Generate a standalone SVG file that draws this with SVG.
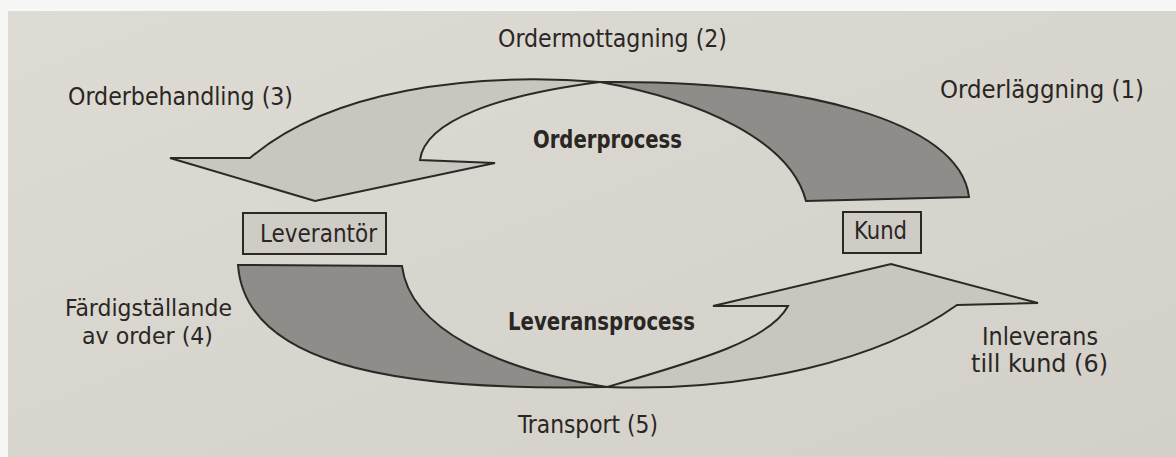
<svg xmlns="http://www.w3.org/2000/svg" width="1176" height="457" viewBox="0 0 1176 457">
  <defs>
    <linearGradient id="paper" x1="0" y1="0" x2="1" y2="1">
      <stop offset="0" stop-color="#dedbd4"/>
      <stop offset="1" stop-color="#d3d0c9"/>
    </linearGradient>
    <style>
      .lbl { font-family: 'DejaVu Sans Condensed', 'DejaVu Sans', sans-serif; font-stretch: condensed; font-size: 25px; fill: #2a2624; }
      .small { font-size: 23px; }
      .bold { font-weight: bold; }
      .light { fill: #c9c6c0; stroke: #2b2826; stroke-width: 2; stroke-linejoin: miter; }
      .dark { fill: #8f8d89; stroke: #2b2826; stroke-width: 2; stroke-linejoin: miter; }
      .box { fill: #cfccc6; stroke: #2b2826; stroke-width: 2; }
    </style>
  </defs>

  <rect x="0" y="0" width="1176" height="457" fill="#f7f7f6"/>
  <rect x="8" y="11" width="1168" height="446" fill="url(#paper)"/>

  <g id="connectors">
    <path id="orderbehandling-arrow" class="light" d="M600,82 C470,72 330,90 250,158 L170,158 L315,201 L495,163 L420,160 C425,120 500,95 600,82 Z"/>
    <path id="orderlaggning-arrow" class="dark" d="M600,82 C800,80 960,120 969,197 L806,201 C790,140 700,100 600,82 Z"/>
    <path id="fardigstallande-arrow" class="dark" d="M238,265 L402,266 C410,330 500,370 607,387 C380,392 245,360 238,265 Z"/>
    <path id="inleverans-arrow" class="light" d="M607,387 C700,360 770,340 788,306 L713,306 L891,264 L1038,303 L957,305 C880,360 750,392 607,387 Z"/>
  </g>

  <g id="leverantor">
    <rect class="box" x="243" y="213" width="143" height="41"/>
    <text class="lbl" x="260" y="242" textLength="117" lengthAdjust="spacingAndGlyphs">Leverantör</text>
  </g>

  <g id="kund">
    <rect class="box" x="843" y="212" width="78" height="41"/>
    <text class="lbl" x="854" y="239" textLength="53" lengthAdjust="spacingAndGlyphs">Kund</text>
  </g>

  <g id="labels">
    <text class="lbl" x="498" y="47" textLength="229" lengthAdjust="spacingAndGlyphs">Ordermottagning (2)</text>
    <text class="lbl" x="68" y="105" textLength="225" lengthAdjust="spacingAndGlyphs">Orderbehandling (3)</text>
    <text class="lbl" x="940" y="98" textLength="204" lengthAdjust="spacingAndGlyphs">Orderläggning (1)</text>
    <text class="lbl bold" x="533" y="148" textLength="149" lengthAdjust="spacingAndGlyphs">Orderprocess</text>
    <text class="lbl small" x="65" y="316" textLength="167" lengthAdjust="spacingAndGlyphs">Färdigställande</text>
    <text class="lbl small" x="82" y="344" textLength="131" lengthAdjust="spacingAndGlyphs">av order (4)</text>
    <text class="lbl bold" x="508" y="330" textLength="187" lengthAdjust="spacingAndGlyphs">Leveransprocess</text>
    <text class="lbl" x="982" y="345" textLength="116" lengthAdjust="spacingAndGlyphs">Inleverans</text>
    <text class="lbl" x="971" y="372" textLength="137" lengthAdjust="spacingAndGlyphs">till kund (6)</text>
    <text class="lbl" x="518" y="433" textLength="140" lengthAdjust="spacingAndGlyphs">Transport (5)</text>
  </g>
</svg>
